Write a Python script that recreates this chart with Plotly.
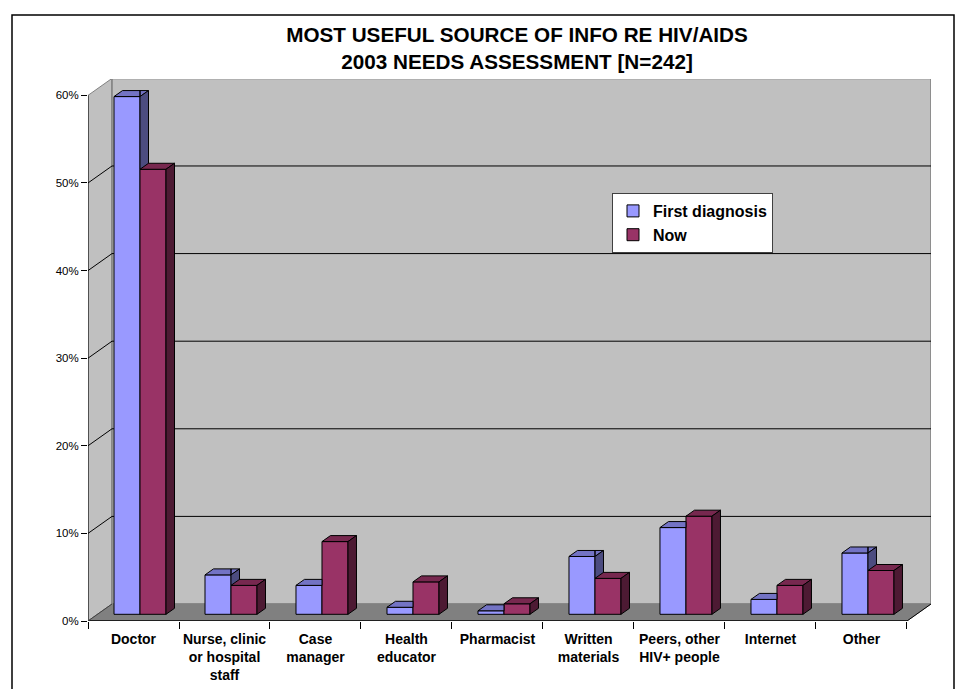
import plotly.graph_objects as go

# ---------------- data ----------------
categories = ["Doctor", "Nurse, clinic<br>or hospital<br>staff", "Case<br>manager",
              "Health<br>educator", "Pharmacist", "Written<br>materials",
              "Peers, other<br>HIV+ people", "Internet", "Other"]
first_diagnosis = [0.591, 0.045, 0.033, 0.008, 0.004, 0.066, 0.099, 0.017, 0.070]
now_values = [0.508, 0.033, 0.083, 0.037, 0.012, 0.041, 0.112, 0.033, 0.050]
y_ticks = [0.0, 0.1, 0.2, 0.3, 0.4, 0.5, 0.6]

# ---------------- geometry / style ----------------
FONT = "Arial, 'Liberation Sans', sans-serif"
W, H = 956, 689
ML, MR, MT, MB = 88, 25, 79, 68
n = len(categories)
X_MIN, X_MAX = -0.5, 8.764
Y_MAX = 0.6187
px_x = (W - ML - MR) / (X_MAX - X_MIN)
px_y = (H - MT - MB) / Y_MAX
WALL_DX, WALL_DY = 24 / px_x, 17 / px_y      # depth of floor / walls
BAR_DX, BAR_DY = 8.5 / px_x, 6 / px_y        # depth of a bar
BAR_BASE = 6.7 / px_y                         # bars stand a bit back on the floor
BAR_W = 26 / px_x
OFF_FD, OFF_NOW = -0.2143, -0.2143 + BAR_W
front_right = X_MIN + n
y_top = max(y_ticks)

C_FD = ("#9999FF", "#7373C4", "#4C4C80")
C_NOW = ("#993366", "#77284F", "#4D1A33")


def clip(poly, axis, val, keep_ge):
    """Sutherland-Hodgman clipping of polygon against axis-aligned half plane."""
    out = []
    if not poly:
        return out
    def inside(p):
        return p[axis] >= val if keep_ge else p[axis] <= val
    def inter(p, q):
        t = (val - p[axis]) / (q[axis] - p[axis])
        return (p[0] + t * (q[0] - p[0]), p[1] + t * (q[1] - p[1]))
    for k in range(len(poly)):
        cur, prev = poly[k], poly[k - 1]
        if inside(cur):
            if not inside(prev):
                out.append(inter(prev, cur))
            out.append(cur)
        elif inside(prev):
            out.append(inter(prev, cur))
    return out


def add_poly(store, poly):
    if len(poly) >= 3:
        xs, ys = zip(*poly)
        store[0].extend(list(xs) + [xs[0], None])
        store[1].extend(list(ys) + [ys[0], None])


fd_top, fd_side, now_top, now_side = ([], []), ([], []), ([], []), ([], [])
for i in range(n):
    x0 = i + OFF_FD
    x1 = x0 + BAR_W
    top = BAR_BASE + first_diagnosis[i]
    nx0, nx1 = i + OFF_NOW, i + OFF_NOW + BAR_W
    ntop = BAR_BASE + now_values[i]
    tface = [(x0, top), (x1, top), (x1 + BAR_DX, top + BAR_DY), (x0 + BAR_DX, top + BAR_DY)]
    sface = [(x1, BAR_BASE), (x1, top), (x1 + BAR_DX, top + BAR_DY), (x1 + BAR_DX, BAR_BASE + BAR_DY)]
    add_poly(fd_top, clip(tface, 0, nx0, False))
    add_poly(fd_top, clip(clip(tface, 0, nx0, True), 1, ntop, True))
    add_poly(fd_side, clip(sface, 1, ntop, True))
    add_poly(now_top, [(nx0, ntop), (nx1, ntop), (nx1 + BAR_DX, ntop + BAR_DY), (nx0 + BAR_DX, ntop + BAR_DY)])
    add_poly(now_side, [(nx1, BAR_BASE), (nx1, ntop), (nx1 + BAR_DX, ntop + BAR_DY), (nx1 + BAR_DX, BAR_BASE + BAR_DY)])

fig = go.Figure()
fig.add_trace(go.Bar(x=list(range(n)), y=first_diagnosis, base=BAR_BASE, width=BAR_W, offset=OFF_FD,
                     name="<b>First diagnosis</b>", marker=dict(color=C_FD[0], line=dict(color="black", width=1))))
fig.add_trace(go.Bar(x=list(range(n)), y=now_values, base=BAR_BASE, width=BAR_W, offset=OFF_NOW,
                     name="<b>Now</b>", marker=dict(color=C_NOW[0], line=dict(color="black", width=1))))
for store, col in [(fd_top, C_FD[1]), (fd_side, C_FD[2]), (now_top, C_NOW[1]), (now_side, C_NOW[2])]:
    fig.add_trace(go.Scatter(x=store[0], y=store[1], mode="lines", fill="toself", fillcolor=col,
                             line=dict(color="black", width=1), showlegend=False, hoverinfo="skip"))

shapes = []
# left wall
shapes.append(dict(type="path", layer="below", xref="x", yref="y",
                   path=f"M {X_MIN},0 L {X_MIN + WALL_DX},{WALL_DY} L {X_MIN + WALL_DX},{y_top + WALL_DY} L {X_MIN},{y_top} Z",
                   fillcolor="#C0C0C0", line=dict(color="#808080", width=1)))
# back wall
shapes.append(dict(type="rect", layer="below", xref="x", yref="y",
                   x0=X_MIN + WALL_DX, x1=front_right + WALL_DX, y0=WALL_DY, y1=y_top + WALL_DY,
                   fillcolor="#C0C0C0", line=dict(color="#808080", width=1.5)))
# floor
shapes.append(dict(type="path", layer="below", xref="x", yref="y",
                   path=f"M {X_MIN},0 L {front_right},0 L {front_right + WALL_DX},{WALL_DY} L {X_MIN + WALL_DX},{WALL_DY} Z",
                   fillcolor="#808080", line=dict(color="#808080", width=1)))
# gridlines on back and left walls
for v in y_ticks[1:-1]:
    shapes.append(dict(type="line", layer="below", xref="x", yref="y",
                       x0=X_MIN + WALL_DX, x1=front_right + WALL_DX, y0=v + WALL_DY, y1=v + WALL_DY,
                       line=dict(color="black", width=1)))
    shapes.append(dict(type="line", layer="below", xref="x", yref="y",
                       x0=X_MIN, x1=X_MIN + WALL_DX, y0=v, y1=v + WALL_DY,
                       line=dict(color="black", width=1)))
# front edges (axis lines)
shapes.append(dict(type="line", layer="below", xref="x", yref="y", x0=X_MIN, x1=X_MIN, y0=0, y1=y_top,
                   line=dict(color="black", width=1)))
shapes.append(dict(type="line", layer="below", xref="x", yref="y", x0=X_MIN, x1=front_right, y0=0, y1=0,
                   line=dict(color="black", width=1.5)))
shapes.append(dict(type="line", layer="below", xref="x", yref="y", x0=front_right, x1=front_right + WALL_DX,
                   y0=0, y1=WALL_DY, line=dict(color="black", width=1)))
shapes.append(dict(type="line", layer="below", xref="x", yref="y", x0=X_MIN, x1=X_MIN + WALL_DX,
                   y0=0, y1=WALL_DY, line=dict(color="#404040", width=1)))
# outer chart border
shapes.append(dict(type="rect", xref="paper", yref="paper",
                   x0=(12 - ML) / (W - ML - MR), x1=(954 - ML) / (W - ML - MR),
                   y0=-0.3, y1=(H - MB - 15) / (H - MT - MB),
                   line=dict(color="black", width=1.5), fillcolor="rgba(0,0,0,0)"))

fig.update_layout(
    width=W, height=H,
    margin=dict(l=ML, r=MR, t=MT, b=MB, autoexpand=False),
    paper_bgcolor="white", plot_bgcolor="white",
    barmode="overlay",
    shapes=shapes,
    font=dict(family=FONT, color="black"),
    title=dict(text="<b>MOST USEFUL SOURCE OF INFO RE HIV/AIDS<br>2003 NEEDS ASSESSMENT [N=242]</b>",
               x=517 / W, xanchor="center", y=1 - 42 / H, yanchor="middle", automargin=False,
               font=dict(family=FONT, size=20.7, color="black")),
    xaxis=dict(range=[X_MIN, X_MAX], tickmode="array", tickvals=list(range(n)),
               ticktext=[f"<b>{c}</b>" for c in categories], ticks="", showgrid=False,
               zeroline=False, showline=False, ticklabelstandoff=8, automargin=False,
               tickfont=dict(family=FONT, size=14, color="black"),
               minor=dict(ticks="outside", ticklen=7, tick0=0.5, dtick=1, tickcolor="black", showgrid=False)),
    yaxis=dict(range=[0, Y_MAX], tickmode="array", tickvals=y_ticks, tickformat=".0%",
               ticks="outside", ticklen=6, tickcolor="black", showgrid=False, zeroline=False,
               showline=False, automargin=False, tickfont=dict(family=FONT, size=11.5, color="black")),
    legend=dict(x=(612 - ML) / (W - ML - MR), y=(H - MB - 193) / (H - MT - MB), xanchor="left", yanchor="top",
                bgcolor="white", bordercolor="#404040", borderwidth=1,
                font=dict(family=FONT, size=16, color="black"), traceorder="normal"),
)

fig.write_html("out.html")
